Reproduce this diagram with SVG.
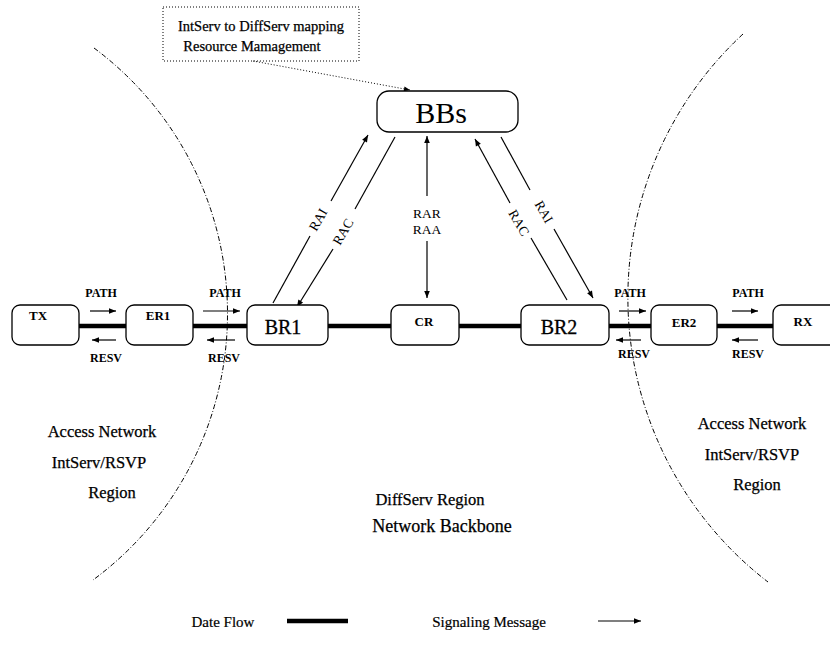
<svg xmlns="http://www.w3.org/2000/svg" width="830" height="646" viewBox="0 0 830 646">
  <defs>
    <marker id="ah" viewBox="0 0 10 10" refX="10" refY="5" markerWidth="9" markerHeight="7" markerUnits="userSpaceOnUse" orient="auto-start-reverse">
      <path d="M0,1 L10,5 L0,9 z" fill="#000"/>
    </marker>
    <marker id="ahs" viewBox="0 0 10 10" refX="10" refY="5" markerWidth="8" markerHeight="6" markerUnits="userSpaceOnUse" orient="auto">
      <path d="M0,1 L10,5 L0,9 z" fill="#000"/>
    </marker>
  </defs>
  <style>
    .node { fill: #fff; stroke: #000; stroke-width: 1.3; }
    .flow { stroke: #000; stroke-width: 4.5; fill: none; }
    .sig { stroke: #000; stroke-width: 1.2; fill: none; marker-end: url(#ah); }
    .bound { stroke: #000; stroke-width: 1; fill: none; stroke-dasharray: 5 2 1 2; }
    .dot { stroke: #000; stroke-width: 1; fill: none; stroke-dasharray: 1 2; }
    text { font-family: "Liberation Serif", "Times New Roman", serif; fill: #000; text-anchor: middle; }
    .sm { font-size: 13px; font-weight: bold; }
    .msg { font-size: 12px; font-weight: bold; }
    .lbl { font-size: 13.5px; }
    .big { font-size: 20px; stroke: #000; stroke-width: 0.3; }
    .note { font-size: 14.5px; stroke: #000; stroke-width: 0.25; }
    .reg { font-size: 16.5px; stroke: #000; stroke-width: 0.25; }
    .reg2 { font-size: 18px; stroke: #000; stroke-width: 0.25; }
    .leg { font-size: 15px; stroke: #000; stroke-width: 0.2; }
  </style>

  <!-- region boundaries -->
  <g id="boundaries">
    <path class="bound" d="M94,48 A331,331 0 0 1 93,580"/>
    <path class="bound" d="M743,34 A359,359 0 0 0 768,582"/>
  </g>

  <!-- data flow and signaling connectors -->
  <g id="connectors">
    <line class="flow" x1="79" y1="326" x2="126" y2="326"/>
    <line class="flow" x1="193" y1="326" x2="247" y2="326"/>
    <line class="flow" x1="328" y1="326" x2="391" y2="326"/>
    <line class="flow" x1="459" y1="326" x2="521" y2="326"/>
    <line class="flow" x1="609" y1="326" x2="651" y2="326"/>
    <line class="flow" x1="717" y1="326" x2="773" y2="326"/>

    <!-- PATH / RESV messages -->
    <line class="sig" x1="90" y1="311" x2="116" y2="311"/>
    <line class="sig" x1="116" y1="340" x2="92" y2="340"/>
    <line class="sig" x1="203" y1="311" x2="240" y2="311"/>
    <line class="sig" x1="235" y1="340" x2="207" y2="340"/>
    <line class="sig" x1="619" y1="311" x2="646" y2="311"/>
    <line class="sig" x1="641" y1="340" x2="616" y2="340"/>
    <line class="sig" x1="732" y1="311" x2="758" y2="311"/>
    <line class="sig" x1="758" y1="340" x2="732" y2="340"/>

    <!-- BR1 <-> BBs -->
    <line stroke="#000" stroke-width="1.2" x1="273" y1="303" x2="310" y2="236"/>
    <line class="sig" x1="331" y1="201" x2="368" y2="135"/>
    <line stroke="#000" stroke-width="1.2" x1="395" y1="137" x2="355" y2="209"/>
    <line class="sig" x1="333" y1="249" x2="297" y2="307"/>

    <!-- CR <-> BBs -->
    <line stroke="#000" stroke-width="1.2" x1="427" y1="136" x2="427" y2="196" marker-start="url(#ah)"/>
    <line stroke="#000" stroke-width="1.2" x1="427" y1="241" x2="427" y2="298" marker-end="url(#ah)"/>

    <!-- BR2 <-> BBs -->
    <line stroke="#000" stroke-width="1.2" x1="567" y1="300" x2="531" y2="238"/>
    <line class="sig" x1="510" y1="203" x2="475" y2="139"/>
    <line stroke="#000" stroke-width="1.2" x1="501" y1="137" x2="530" y2="190"/>
    <line class="sig" x1="554" y1="229" x2="593" y2="298"/>

    <!-- note to BBs -->
    <line class="dot" x1="253" y1="61" x2="410" y2="90" marker-end="url(#ahs)"/>

    <!-- signaling labels -->
    <text class="lbl" transform="translate(322,222) rotate(-60)">RAI</text>
    <text class="lbl" transform="translate(347,234) rotate(-60)">RAC</text>
    <text class="lbl" x="427" y="218">RAR</text>
    <text class="lbl" x="427" y="234">RAA</text>
    <text class="lbl" transform="translate(515,225) rotate(60)">RAC</text>
    <text class="lbl" transform="translate(540,214) rotate(60)">RAI</text>

    <text class="msg" x="101" y="297">PATH</text>
    <text class="msg" x="106" y="362">RESV</text>
    <text class="msg" x="225" y="297">PATH</text>
    <text class="msg" x="224" y="362">RESV</text>
    <text class="msg" x="630" y="297">PATH</text>
    <text class="msg" x="634" y="358">RESV</text>
    <text class="msg" x="748" y="297">PATH</text>
    <text class="msg" x="748" y="358">RESV</text>
  </g>

  <!-- note box -->
  <g id="note">
    <rect class="dot" x="163" y="7" width="196" height="54"/>
    <text class="note" x="261" y="31">IntServ to DiffServ mapping</text>
    <text class="note" x="252" y="51">Resource Mamagement</text>
  </g>

  <!-- nodes -->
  <g id="BBs">
    <rect class="node" x="377" y="91" width="141" height="41" rx="12"/>
    <text x="441" y="123" style="font-size:30px">BBs</text>
  </g>
  <g id="TX">
    <rect class="node" x="12" y="305" width="67" height="40" rx="8"/>
    <text class="sm" x="38" y="320">TX</text>
  </g>
  <g id="ER1">
    <rect class="node" x="126" y="305" width="67" height="40" rx="8"/>
    <text class="sm" x="158" y="320">ER1</text>
  </g>
  <g id="BR1">
    <rect class="node" x="247" y="305" width="81" height="40" rx="8"/>
    <text class="big" x="283" y="334">BR1</text>
  </g>
  <g id="CR">
    <rect class="node" x="391" y="305" width="68" height="40" rx="8"/>
    <text class="sm" x="424" y="326">CR</text>
  </g>
  <g id="BR2">
    <rect class="node" x="521" y="305" width="88" height="40" rx="8"/>
    <text class="big" x="559" y="334">BR2</text>
  </g>
  <g id="ER2">
    <rect class="node" x="651" y="305" width="66" height="40" rx="8"/>
    <text class="sm" x="684" y="327">ER2</text>
  </g>
  <g id="RX">
    <rect class="node" x="773" y="305" width="70" height="40" rx="8"/>
    <text class="sm" x="803" y="326">RX</text>
  </g>

  <!-- region labels -->
  <g id="regions">
    <text class="reg" x="102" y="437">Access Network</text>
    <text class="reg" x="99" y="468">IntServ/RSVP</text>
    <text class="reg" x="112" y="498">Region</text>
    <text class="reg" x="752" y="429">Access Network</text>
    <text class="reg" x="752" y="460">IntServ/RSVP</text>
    <text class="reg" x="757" y="490">Region</text>
    <text class="reg" x="430" y="505">DiffServ Region</text>
    <text class="reg2" x="442" y="532">Network Backbone</text>
  </g>

  <!-- legend -->
  <g id="legend">
    <text class="leg" x="223" y="627">Date Flow</text>
    <line class="flow" x1="287" y1="621" x2="348" y2="621"/>
    <text class="leg" x="489" y="627">Signaling Message</text>
    <line class="sig" x1="598" y1="621" x2="641" y2="621"/>
  </g>
</svg>
